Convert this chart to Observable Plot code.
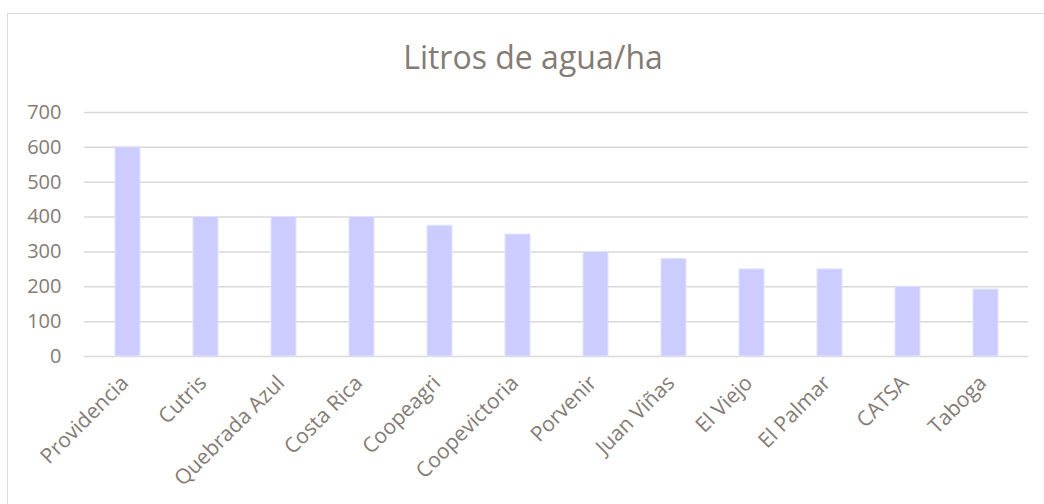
<!DOCTYPE html>
<html>
<head>
<meta charset="utf-8">
<script src="https://cdn.jsdelivr.net/npm/d3@7"></script>
<script src="https://cdn.jsdelivr.net/npm/@observablehq/plot@0.6"></script>
<style>
  html, body { margin: 0; padding: 0; background: #fff; }
  body { width: 1044px; height: 504px; position: relative; overflow: hidden; font-family: "Open Sans", sans-serif; }
  #frame { position: absolute; left: 7px; top: 13px; width: 1100px; height: 600px; border-top: 1.5px solid #d9d9d9; border-left: 1.5px solid #d9d9d9; }
  #title { position: absolute; left: 0; width: 1066px; top: 35px; text-align: center; font-size: 32px; color: #857b75; font-family: "Open Sans", sans-serif; line-height: 44px; }
  #chart { position: absolute; left: 0; top: 0; }
  #chart svg text { fill: #857b75; }
  #chart svg g[aria-label="y-axis tick label"] text { font-size: 20px; }
  #chart svg g[aria-label="x-axis tick label"] text { font-size: 21px; }
</style>
</head>
<body>
<div id="frame"></div>
<div id="title">Litros de agua/ha</div>
<div id="chart"></div>
<script>
const categories = ["Providencia", "Cutris", "Quebrada Azul", "Costa Rica", "Coopeagri", "Coopevictoria", "Porvenir", "Juan Viñas", "El Viejo", "El Palmar", "CATSA", "Taboga"];
const values = [600, 400, 400, 400, 375, 350, 300, 280, 250, 250, 200, 192];
const yTicks = [0, 100, 200, 300, 400, 500, 600, 700];

const data = categories.map((c, i) => ({cat: c, val: values[i]}));

const chart = Plot.plot({
  width: 1044,
  height: 504,
  marginLeft: 84,
  marginRight: 16,
  marginTop: 112,
  marginBottom: 148,
  style: {fontFamily: "Open Sans, sans-serif", fontSize: "20px", color: "#857b75", background: "transparent", overflow: "visible"},
  x: {domain: categories, paddingInner: 0.68, paddingOuter: 0.34, label: null},
  y: {domain: [0, 700], label: null},
  marks: [
    Plot.gridY(yTicks, {stroke: "#d9d9d9", strokeWidth: 1.5, strokeOpacity: 1}),
    Plot.barY(data, {x: "cat", y: "val", fill: "#ccccff", stroke: "#e2e2ff", strokeWidth: 1}),
    Plot.axisY(yTicks, {tickSize: 0, tickPadding: 23, fontSize: 20, label: null}),
    Plot.axisX({tickSize: 0, tickPadding: 23, dx: -3, tickRotate: -45, fontSize: 21, label: null})
  ]
});
document.getElementById("chart").appendChild(chart);
chart.querySelectorAll("text").forEach(t => t.getBBox());
</script>
</body>
</html>
